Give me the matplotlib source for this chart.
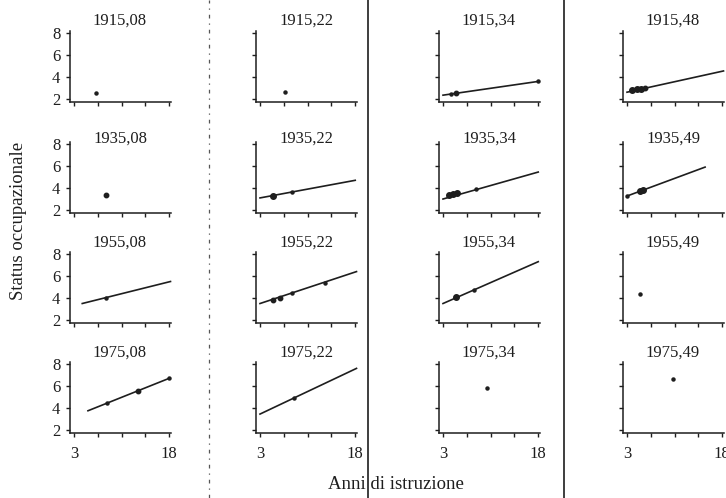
# Status occupazionale per anni di istruzione, pannelli coorte x eta
import matplotlib
matplotlib.use('Agg')
import matplotlib.pyplot as plt
from matplotlib.lines import Line2D

plt.rcParams['font.family'] = ['Liberation Serif', 'DejaVu Serif']

# titoli dei pannelli (riga = coorte, colonna = eta)
titles = [['1915,08', '1915,22', '1915,34', '1915,48'],
          ['1935,08', '1935,22', '1935,34', '1935,49'],
          ['1955,08', '1955,22', '1955,34', '1955,49'],
          ['1975,08', '1975,22', '1975,34', '1975,49']]

# punti osservati: anni di istruzione, status, peso (dimensione)
pts_x = [[[6.5], [7.0], [4.2, 5.1, 18.0], [3.8, 4.5, 5.2, 5.8]],
         [[8.0], [5.1, 8.1], [4.0, 4.6, 5.2, 8.2], [3.0, 5.0, 5.5]],
         [[8.0], [5.1, 6.2, 8.1, 13.2], [5.0, 7.9], [5.1]],
         [[8.2, 13.1, 18.0], [8.4], [10.0], [10.3]]]
pts_y = [[[2.55], [2.6], [2.45, 2.55, 3.6], [2.8, 2.9, 2.95, 3.0]],
         [[3.4], [3.3, 3.6], [3.35, 3.45, 3.55, 3.95], [3.3, 3.75, 3.85]],
         [[4.0], [3.85, 4.0, 4.45, 5.4], [4.05, 4.75], [4.4]],
         [[4.45, 5.55, 6.7], [4.9], [5.8], [6.6]]]
pts_w = [[[1], [1], [1, 2, 1], [3, 3, 3, 2]],
         [[2], [3, 1], [3, 3, 3, 1], [1, 3, 3]],
         [[1], [2, 2, 1, 1], [3, 1], [1]],
         [[1, 2, 1], [1], [1], [1]]]

# rette di regressione: (x0, x1), (y0, y1); None = nessuna retta
fit_x = [[None, None, (3, 18), (3, 18.2)],
         [None, (3, 18), (3, 18), (3, 15.3)],
         [(4.3, 18.2), (3, 18.2), (3, 18), None],
         [(5.2, 18), (3, 18.2), None, None]]
fit_y = [[None, None, (2.35, 3.6), (2.62, 4.55)],
         [None, (3.1, 4.7), (3.0, 5.45), (3.27, 5.9)],
         [(3.5, 5.5), (3.5, 6.4), (3.5, 7.3), None],
         [(3.75, 6.7), (3.45, 7.6), None, None]]

xticks = [3, 6.75, 10.5, 14.25, 18]
yticks = [2, 4, 6, 8]

W, H = 726, 498
fig = plt.figure(figsize=(W / 100, H / 100), dpi=100)

col_left = [70, 256, 439, 623]
row_bottom = [102, 213, 323, 433]
title_y = [21, 139, 243, 353]
ax_w, ax_h = 100.5, 71
ink = '#1e1e1e'
msize = {1: 2.2, 2: 3.2, 3: 4.0}

for r in range(4):
    for c in range(4):
        ax = fig.add_axes([col_left[c] / W, 1 - row_bottom[r] / H, ax_w / W, ax_h / H])
        ax.set_xlim(2.37, 18.2)
        ax.set_ylim(1.73, 8.18)
        for s in ['top', 'right']:
            ax.spines[s].set_visible(False)
        for s in ['left', 'bottom']:
            ax.spines[s].set_color(ink)
            ax.spines[s].set_linewidth(1.1)
        ax.set_xticks(xticks)
        ax.set_yticks(yticks)
        ax.tick_params(length=3, width=1, color=ink, labelsize=12, labelcolor=ink)
        ax.tick_params(axis='x', pad=6)
        ax.tick_params(axis='y', pad=4)
        if c == 0:
            ax.set_yticklabels([str(t) for t in yticks])
        else:
            ax.set_yticklabels([])
        if r == 3:
            ax.set_xticklabels(['3', '', '', '', '18'])
        else:
            ax.set_xticklabels([])

        if fit_x[r][c] is not None:
            ax.plot(fit_x[r][c], fit_y[r][c], color=ink, lw=1.2, clip_on=False)
        for x, y, w in zip(pts_x[r][c], pts_y[r][c], pts_w[r][c]):
            ax.plot([x], [y], 'o', color=ink, ms=msize[w], mec=ink, clip_on=False)

        fig.text((col_left[c] + 50) / W, 1 - title_y[r] / H, titles[r][c],
                 ha='center', va='center', fontsize=12, color=ink)

# separatori verticali della pagina
fig.add_artist(Line2D([209 / W, 209 / W], [0, 1], color='#555555', lw=0.9,
                      linestyle=(0, (3, 4, 1, 4))))
fig.add_artist(Line2D([368 / W, 368 / W], [0, 1], color=ink, lw=1.2))
fig.add_artist(Line2D([564 / W, 564 / W], [0, 1], color=ink, lw=1.2))

fig.text(19 / W, 1 - 221 / H, 'Status occupazionale', rotation=90,
         ha='center', va='center', fontsize=13.5, color=ink)
fig.text(396 / W, 1 - 484 / H, 'Anni di istruzione',
         ha='center', va='center', fontsize=13.5, color=ink)

fig.savefig('out.png', dpi=100, facecolor='white')
